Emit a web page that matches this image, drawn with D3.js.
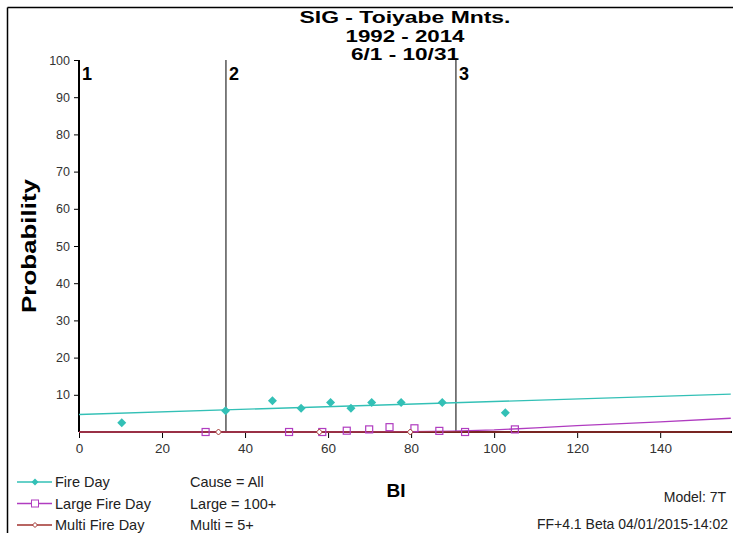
<!DOCTYPE html>
<html><head><meta charset="utf-8">
<script src="https://cdn.jsdelivr.net/npm/d3@7"></script>
<style>body{margin:0;background:#fff}svg{display:block}text{font-family:Arial,"Liberation Sans",sans-serif}</style>
</head><body><svg id="c" width="733" height="533"></svg>
<script>
const titleLines = ["SIG - Toiyabe Mnts.", "1992 - 2014", "6/1 - 10/31"];
const titleWidths = [211, 119, 108];
const xTicks = [0, 20, 40, 60, 80, 100, 120, 140];
const yTicks = [10, 20, 30, 40, 50, 60, 70, 80, 90, 100];
const breakpoints = [{label: "1", bi: 0}, {label: "2", bi: 35.4}, {label: "3", bi: 90.8}];
const fireDayPts = [[10.3,2.5],[35.3,5.7],[46.6,8.4],[53.5,6.4],[60.6,7.9],[65.5,6.4],[70.5,7.9],[77.6,7.9],[87.5,7.9],[102.7,5.2]];
const fireDayLine = [[0,4.7],[157,10.2]];
const largePts = [[30.5,0],[50.6,0],[58.6,0],[64.5,0.35],[69.9,0.7],[74.8,1.3],[80.8,1.0],[86.8,0.3],[93,0],[105,0.7]];
const largeLine = [[0,0],[60,0],[80,0.1],[90,0.25],[100,0.55],[110,1.1],[120,1.7],[140,2.7],[157,3.7]];
const multiPts = [[33.6,0],[57.9,0],[79.8,0]];
const multiLine = [[0,0],[157,0]];
const legendItems = ["Fire Day", "Large Fire Day", "Multi Fire Day"];
const legendNotes = ["Cause = All", "Large = 100+", "Multi = 5+"];
const footer = ["Model: 7T", "FF+4.1 Beta 04/01/2015-14:02"];

const svg = d3.select("#c");
const x = d3.scaleLinear().domain([0, 157.3]).range([79, 732]);
const y = d3.scaleLinear().domain([0, 100]).range([432, 60]);
const teal = "#33c0b6", purple = "#b03cc0", red = "#a0322e";

// frame
svg.append("line").attr("x1",7.5).attr("x2",733).attr("y1",7.5).attr("y2",7.5).attr("stroke","#000").attr("stroke-width",1.5);
svg.append("line").attr("x1",7.5).attr("x2",7.5).attr("y1",7.5).attr("y2",533).attr("stroke","#000").attr("stroke-width",1.5);

// title
svg.selectAll(".title").data(titleLines).join("text")
  .attr("x",405).attr("y",(d,i)=>23+i*18.5).attr("text-anchor","middle")
  .attr("font-weight","bold").attr("font-size",16.5)
  .attr("textLength",(d,i)=>titleWidths[i]).attr("lengthAdjust","spacingAndGlyphs")
  .text(d=>d);

// y axis
const ya = svg.append("g").attr("transform","translate(79,0)")
  .call(d3.axisLeft(y).tickValues(yTicks).tickSize(5).tickSizeOuter(0));
ya.select(".domain").remove();
ya.selectAll("text").attr("font-size",12.5).attr("fill","#333").attr("dx","-1");
svg.append("line").attr("x1",79).attr("x2",79).attr("y1",y(100)).attr("y2",432).attr("stroke","#000").attr("stroke-width",2);

// x axis
const xa = svg.append("g").attr("transform","translate(0,432)")
  .call(d3.axisBottom(x).tickValues(xTicks).tickSize(6).tickSizeOuter(0));
xa.select(".domain").remove();
xa.selectAll("text").attr("font-size",13.5).attr("fill","#333").attr("dy","0.9em");
svg.append("line").attr("x1",79).attr("x2",732).attr("y1",432).attr("y2",432).attr("stroke","#000").attr("stroke-width",2);

// axis labels
svg.append("text").attr("transform","translate(36,246) rotate(-90)").attr("text-anchor","middle")
  .attr("font-weight","bold").attr("font-size",20).attr("textLength",134).attr("lengthAdjust","spacingAndGlyphs").text("Probability");
svg.append("text").attr("x",396).attr("y",497).attr("text-anchor","middle")
  .attr("font-weight","bold").attr("font-size",19).text("BI");

// breakpoints
breakpoints.forEach((b,i)=>{
  if (i>0) svg.append("line").attr("x1",x(b.bi)).attr("x2",x(b.bi)).attr("y1",i===2?58:60).attr("y2",432).attr("stroke","#000").attr("stroke-width",1);
  svg.append("text").attr("x",x(b.bi)+3).attr("y",80).attr("font-weight","bold").attr("font-size",18).text(b.label);
});

const line = d3.line().x(d=>x(d[0])).y(d=>y(d[1]));
svg.append("path").attr("d",line(fireDayLine)).attr("fill","none").attr("stroke",teal).attr("stroke-width",1.3);
svg.append("path").attr("d",line(largeLine)).attr("fill","none").attr("stroke",purple).attr("stroke-width",1.3);
svg.append("path").attr("d",line(multiLine)).attr("fill","none").attr("stroke",red).attr("stroke-width",1.6);

const diamond = (s)=>`M0,${-s}L${s},0L0,${s}L${-s},0Z`;
svg.selectAll(".fd").data(fireDayPts).join("path")
  .attr("transform",d=>`translate(${x(d[0])},${y(d[1])})`).attr("d",diamond(4.5)).attr("fill",teal);
svg.selectAll(".lf").data(largePts).join("rect")
  .attr("x",d=>x(d[0])-3.5).attr("y",d=>y(d[1])-3.5).attr("width",7).attr("height",7)
  .attr("fill","none").attr("stroke",purple).attr("stroke-width",1.2);
svg.selectAll(".mf").data(multiPts).join("path")
  .attr("transform",d=>`translate(${x(d[0])},${y(d[1])})`).attr("d",diamond(3)).attr("fill","#fff").attr("stroke",red).attr("stroke-width",1);

// legend
const lg = svg.append("g");
const cols = [teal, purple, red];
legendItems.forEach((t,i)=>{
  const yy = 482 + i*21.5;
  lg.append("line").attr("x1",17).attr("x2",52).attr("y1",yy).attr("y2",yy).attr("stroke",cols[i]).attr("stroke-width",1.3);
  if (i===0) lg.append("path").attr("transform",`translate(35,${yy})`).attr("d",diamond(3.5)).attr("fill",teal);
  if (i===1) lg.append("rect").attr("x",31.5).attr("y",yy-3.5).attr("width",7).attr("height",7).attr("fill","#fff").attr("stroke",purple);
  if (i===2) lg.append("path").attr("transform",`translate(35,${yy})`).attr("d",diamond(2.5)).attr("fill","#fff").attr("stroke",red);
  lg.append("text").attr("x",55).attr("y",yy+5).attr("font-size",14.5).attr("fill","#222").text(t);
  lg.append("text").attr("x",190).attr("y",yy+5).attr("font-size",14.5).attr("fill","#222").text(legendNotes[i]);
});
svg.append("text").attr("x",726).attr("y",502).attr("text-anchor","end").attr("font-size",14).attr("fill","#222").text(footer[0]);
svg.append("text").attr("x",728).attr("y",529).attr("text-anchor","end").attr("font-size",14).attr("fill","#222").text(footer[1]);
</script></body></html>
